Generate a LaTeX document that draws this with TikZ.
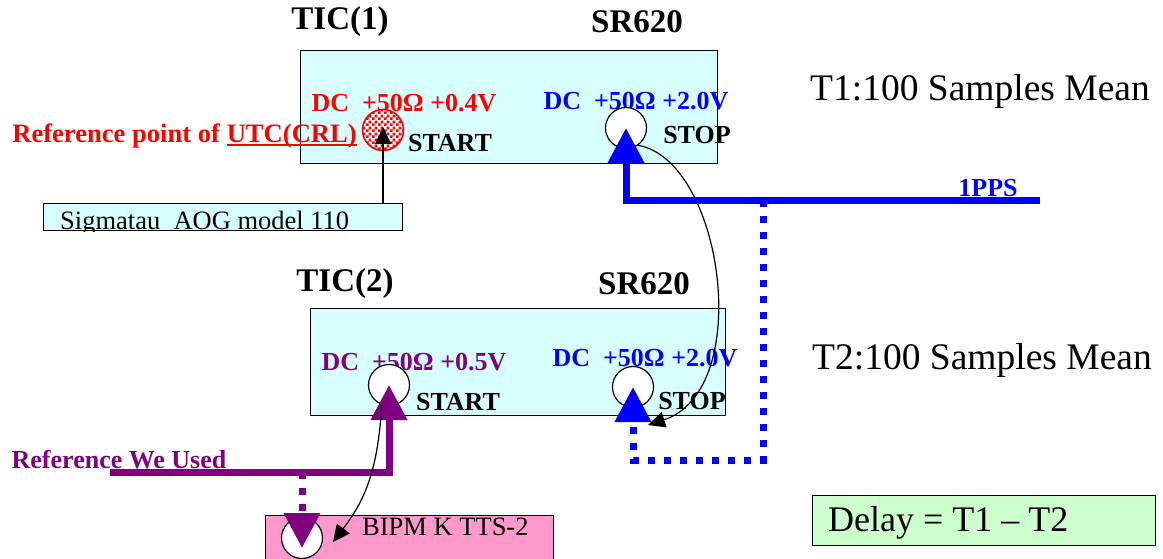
\documentclass[tikz,border=0pt]{standalone}
\usepackage{fontspec}
\setmainfont{Liberation Serif}
\usetikzlibrary{patterns,arrows.meta}
\definecolor{ticcyan}{RGB}{215,255,255}
\definecolor{refpurple}{RGB}{128,0,128}
\definecolor{bipmpink}{RGB}{255,153,204}
\definecolor{delaygreen}{RGB}{204,255,204}
\newcommand\thickul[1]{\setbox0\hbox{#1}\rlap{\rule[-4pt]{\wd0}{2.5pt}}\box0}
\pgfdeclarepatternformonly{finechecker}{\pgfpointorigin}{\pgfpoint{6pt}{6pt}}{\pgfpoint{6pt}{6pt}}{%
   \pgfpathrectangle{\pgfpointorigin}{\pgfpoint{3pt}{3pt}}%
   \pgfpathrectangle{\pgfpoint{3pt}{3pt}}{\pgfpoint{3pt}{3pt}}%
   \pgfusepath{fill}}

\begin{document}
\begin{tikzpicture}[x=1pt,y=-1pt,
   box/.style={draw,line width=1.2pt,inner sep=0pt,anchor=north west},
   lbl/.style={inner sep=0pt,font=\fontsize{26}{28}\selectfont\bfseries},
   plain/.style={inner sep=0pt,font=\fontsize{26.5}{28}\selectfont},
   head/.style={inner sep=0pt,font=\fontsize{33}{36}\selectfont\bfseries},
   big/.style={inner sep=0pt,font=\fontsize{37.5}{40}\selectfont},
   port/.style={circle,draw,line width=1.2pt,fill=white,minimum size=41pt,inner sep=0pt},
   thickarrow/.style={line width=7pt,-{Triangle[length=35pt,width=35pt]}},
   thinarrow/.style={line width=1.2pt,-{Triangle[length=17pt,width=16pt]}},
   dots/.style={dash pattern=on 7pt off 9pt}]

   \useasboundingbox (0,0) rectangle (1163,558);

   \node[box,fill=ticcyan,minimum width=417pt,minimum height=113pt] (tic1) at (300,50) {};
   \node[head] (tic1name) at (340,22) {TIC(1)};
   \node[head] (sr1name) at (637,22) {SR620};
   \node[big] (t1text) at (980,91) {T1:100 Samples Mean};
   \node[lbl,red] (dc1a) at (404,103) {DC~~+50Ω +0.4V};
   \node[lbl,blue] (dc1b) at (636,101) {DC~~+50Ω +2.0V};
   \node[port,draw=red,line width=1.6pt,preaction={fill=white},pattern=finechecker,pattern color=red] (refport) at (383,130) {};
   \node[port] (stop1) at (626,128) {};
   \node[lbl] (start1name) at (450,143) {START};
   \node[lbl] (stop1name) at (697,135) {STOP};
   \node[lbl,red,anchor=base east,font=\fontsize{26.6}{29}\selectfont\bfseries] (refname) at (357,142) {Reference point of \thickul{UTC(CRL)}};

   \node[box,fill=ticcyan,minimum width=359pt,minimum height=27pt] (sigbox) at (43,203) {};
   \begin{scope}
   \clip (sigbox.north west) rectangle (sigbox.south east);
   \node[plain,anchor=base west] (sigtext) at (60,229) {Sigmatau~~AOG model 110};
   \end{scope}
   \draw[thinarrow] (sigbox.north -| refport) -- ([yshift=3pt]refport.center);

   \node[box,fill=ticcyan,minimum width=415pt,minimum height=107pt] (tic2) at (310,308) {};
   \node[head] (tic2name) at (345,284) {TIC(2)};
   \node[head] (sr2name) at (644,284) {SR620};
   \node[big] (t2text) at (982,360) {T2:100 Samples Mean};
   \node[lbl,refpurple] (dc2a) at (414,362) {DC~~+50Ω +0.5V};
   \node[lbl,blue] (dc2b) at (645,358) {DC~~+50Ω +2.0V};
   \node[port] (start2) at (389,385) {};
   \node[port] (stop2) at (633,387) {};
   \node[lbl] (start2name) at (458,402) {START};
   \node[lbl] (stop2name) at (692,401) {STOP};

   \node[box,fill=bipmpink,minimum width=288pt,minimum height=60pt] (bipmbox) at (265,515) {};
   \node[port] (bipmport) at (302,538) {};
   \node[plain,anchor=west] (bipmname) at (362,527) {BIPM K TTS-2};

   \node[box,fill=delaygreen,minimum width=343pt,minimum height=50pt] (delaybox) at (812,495) {};
   \node[inner sep=0pt,font=\fontsize{36}{38}\selectfont,anchor=west] (delaytext) at (828,523) {Delay = T1 – T2};

   \coordinate (ppsend) at (1040,200);
   \coordinate (ppstap) at (763,200);
   \coordinate (refend) at (110,472);
   \coordinate (reftap) at (302,472);

   \draw[thinarrow] (stop1.-55) .. controls +(85,15) and +(107,-35) .. ([shift={(15,38)}]stop2.center);

   \draw[blue,thickarrow] (ppsend) -- (ppsend -| stop1) -- (stop1.center);
   \draw[blue,thickarrow,dots] (ppstap) -- ++(0,260) -| (stop2.center);
   \node[lbl,blue] (ppsname) at (988,188) {1PPS};

   \draw[refpurple,thickarrow] (refend) -- (refend -| start2) -- (start2.center);
   \draw[refpurple,thickarrow,dots] (reftap) -- ([yshift=-10pt]bipmport.center);
   \node[lbl,refpurple] (refused) at (119,460) {Reference We Used};

   \draw[thinarrow] (start2.-110) .. controls +(-4,66) and +(32,-42) .. ([shift={(-56,157)}]start2.center);

\end{tikzpicture}
\end{document}
